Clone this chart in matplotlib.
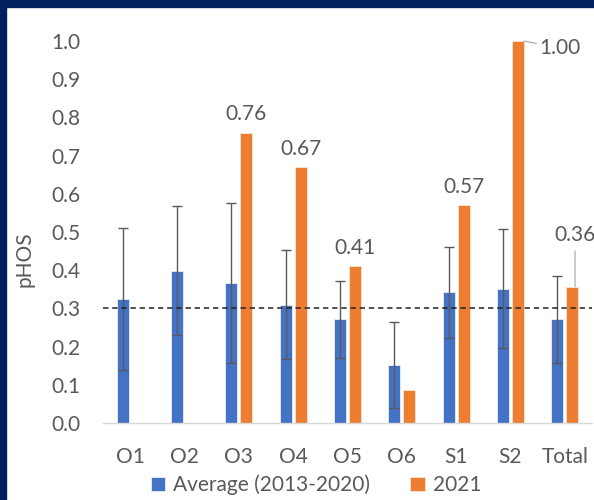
import numpy as np
import matplotlib.pyplot as plt
from matplotlib.patches import Rectangle

categories = ['O1', 'O2', 'O3', 'O4', 'O5', 'O6', 'S1', 'S2', 'Total']
avg_vals = [0.325, 0.399, 0.366, 0.310, 0.271, 0.152, 0.342, 0.352, 0.271]
avg_err = [0.185, 0.168, 0.210, 0.142, 0.100, 0.112, 0.120, 0.155, 0.113]
vals_2021 = [np.nan, np.nan, 0.76, 0.67, 0.41, 0.086, 0.57, 1.00, 0.357]
labelled = ['O3', 'O4', 'O5', 'S1', 'S2', 'Total']
target = 0.30

blue = '#4472C4'
orange = '#ED7D31'
grey = '#595959'
fs = 15

plt.rcParams['font.family'] = ['Lato', 'DejaVu Sans']

fig = plt.figure(figsize=(5.94, 5.0), dpi=100)
ax = fig.add_axes([103 / 594, 1 - 423 / 500, 489 / 594, 382 / 500])

x = np.arange(len(categories))
w = 0.22
off = 0.138
ax.bar(x - off, avg_vals, w, color=blue, edgecolor='#E8EEF8', linewidth=0.6,
       label='Average (2013-2020)', zorder=2)
ax.errorbar(x - off, avg_vals, yerr=avg_err, fmt='none', ecolor=grey,
            elinewidth=1.0, capsize=3.5, capthick=1.0, zorder=3)
ax.bar(x + off, vals_2021, w, color=orange, edgecolor='#FBE5D6', linewidth=0.6,
       label='2021', zorder=2)

ax.axhline(target, color='#222222', linestyle=(0, (3.5, 2.5)), linewidth=1.1, zorder=4)

for i, cat in enumerate(categories):
    if cat not in labelled:
        continue
    v = vals_2021[i]
    if cat == 'S2':
        ax.annotate(f'{v:.2f}', xy=(i + off + w / 2, v), xytext=(11, -5),
                    textcoords='offset points', ha='left', va='center',
                    fontsize=fs, color=grey, annotation_clip=False,
                    arrowprops=dict(arrowstyle='-', color='#A6A6A6', lw=0.8,
                                    shrinkA=0, shrinkB=0))
    elif cat == 'Total':
        ax.annotate(f'{v:.2f}', xy=(i + off + 0.05, v), xytext=(0, 37),
                    textcoords='offset points', ha='center', va='center',
                    fontsize=fs, color=grey, annotation_clip=False,
                    arrowprops=dict(arrowstyle='-', color='#A6A6A6', lw=0.8,
                                    shrinkA=2, shrinkB=0))
    else:
        ax.annotate(f'{v:.2f}', xy=(i + off, v), xytext=(0, 6),
                    textcoords='offset points', ha='center', va='bottom',
                    fontsize=fs, color=grey)

ax.set_xlim(-0.5, len(categories) - 0.5)
ax.set_ylim(0, 1.0)
ax.set_yticks(np.arange(0, 1.01, 0.1))
ax.set_yticklabels([f'{t:.1f}' for t in np.arange(0, 1.01, 0.1)])
ax.set_xticks(x)
ax.set_xticklabels(categories)
ax.tick_params(axis='both', length=0, labelsize=fs, labelcolor=grey)
ax.tick_params(axis='x', pad=17)
ax.tick_params(axis='y', pad=16)
for s in ['top', 'right', 'left']:
    ax.spines[s].set_visible(False)
ax.spines['bottom'].set_color('#D9D9D9')
ax.spines['bottom'].set_linewidth(1.0)

ax.set_ylabel('pHOS', fontsize=fs, color=grey)
ax.yaxis.set_label_coords(-0.14, 0.43)

fig.legend(loc='center', bbox_to_anchor=(316 / 594, 1 - 485 / 500), ncol=2,
           frameon=False, fontsize=fs, labelcolor=grey, handlelength=0.7,
           handleheight=0.7, handletextpad=0.4, columnspacing=1.9)

# navy frame on top and left
navy = '#002060'
fig.patches.append(Rectangle((0, 1 - 7 / 500), 1, 7 / 500, transform=fig.transFigure,
                             color=navy, zorder=10))
fig.patches.append(Rectangle((0, 0), 6 / 594, 1, transform=fig.transFigure,
                             color=navy, zorder=10))

fig.savefig('out.png', dpi=100)
